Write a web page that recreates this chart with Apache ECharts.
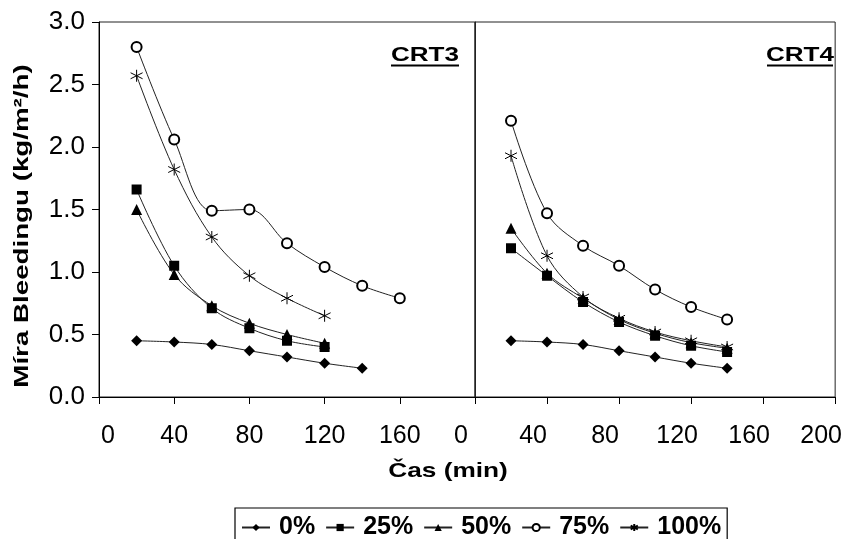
<!DOCTYPE html>
<html>
<head>
<meta charset="utf-8">
<script src="https://cdn.jsdelivr.net/npm/echarts@6/dist/echarts.min.js"></script>
<style>html,body{margin:0;padding:0;background:#fff}#c{width:845px;height:539px}</style>
</head>
<body>
<div id="c"></div>
<script>
const seriesNames = ['0%', '25%', '50%', '75%', '100%'];
const crt3Time = [20, 40, 60, 80, 100, 120, 140, 160];
const crt3_0 = [0.45, 0.44, 0.42, 0.37, 0.32, 0.27, 0.23];
const crt3_25 = [1.66, 1.05, 0.71, 0.55, 0.45, 0.40];
const crt3_50 = [1.50, 0.98, 0.73, 0.59, 0.50, 0.43];
const crt3_75 = [2.80, 2.06, 1.49, 1.50, 1.23, 1.04, 0.89, 0.79];
const crt3_100 = [2.57, 1.82, 1.28, 0.97, 0.79, 0.65];
const crt4Time = [20, 40, 60, 80, 100, 120, 140];
const crt4_0 = [0.45, 0.44, 0.42, 0.37, 0.32, 0.27, 0.23];
const crt4_25 = [1.19, 0.97, 0.76, 0.60, 0.49, 0.41, 0.36];
const crt4_50 = [1.35, 0.99, 0.79, 0.62, 0.51, 0.435, 0.39];
const crt4_75 = [2.21, 1.47, 1.21, 1.05, 0.86, 0.72, 0.62];
const crt4_100 = [1.93, 1.13, 0.80, 0.63, 0.52, 0.45, 0.40];
const yTitle = 'Míra Bleedingu (kg/m²/h)';
const xTitle = 'Čas (min)';
const panelLabels = ['CRT3', 'CRT4'];

const FONT = 'Liberation Sans, Arial, sans-serif';
const STAR = 'path://M5,0L5,10M0.7,2.5L9.3,7.5M0.7,7.5L9.3,2.5';
const symbolDefs = [
  {symbol: 'diamond', size: [11, 11]},
  {symbol: 'rect', size: 10},
  {symbol: 'triangle', size: 11},
  {symbol: 'emptyCircle', size: 10},
  {symbol: STAR, size: 12}
];

function pairs(t, v) { return v.map((y, i) => [t[i], y]); }

const crt3 = [crt3_0, crt3_25, crt3_50, crt3_75, crt3_100];
const crt4 = [crt4_0, crt4_25, crt4_50, crt4_75, crt4_100];

const series = [];
[[crt3, crt3Time, 0], [crt4, crt4Time, 1]].forEach(([sets, t, gi]) => {
  sets.forEach((vals, k) => {
    const s = symbolDefs[k];
    series.push({
      name: seriesNames[k],
      type: 'line',
      xAxisIndex: gi,
      yAxisIndex: gi,
      smooth: 0.35,
      data: pairs(t, vals),
      symbol: s.symbol,
      symbolSize: s.size,
      showAllSymbol: true,
      lineStyle: {color: '#222', width: 1},
      itemStyle: {color: '#000', borderColor: '#000', borderWidth: (k === 3 || k === 4) ? 1 : 0},
      emphasis: {disabled: true},
      z: 3
    });
  });
});

const chart = echarts.init(document.getElementById('c'), null, {renderer: 'canvas'});
const xLabelBase = {color: '#000', fontSize: 25, fontFamily: FONT, margin: 27};
chart.setOption({
  animation: false,
  backgroundColor: '#fff',
  grid: [
    {left: 99, top: 22, width: 376, height: 375, show: true, borderColor: '#222', borderWidth: 1, containLabel: false},
    {left: 475, top: 22, width: 371, height: 375, show: true, borderColor: '#222', borderWidth: 1, containLabel: false}
  ],
  xAxis: [
    {type: 'value', gridIndex: 0, min: 0, max: 200, interval: 40,
     axisLine: {lineStyle: {color: '#000', width: 1}},
     axisTick: {show: true, length: 7, lineStyle: {color: '#000'}},
     splitLine: {show: false},
     axisLabel: Object.assign({}, xLabelBase, {showMaxLabel: false,
       formatter: v => v === 0 ? '{z|0}' : String(v),
       rich: {z: {fontSize: 25, fontFamily: FONT, color: '#000', padding: [0, 0, 0, 18]}}})},
    {type: 'value', gridIndex: 1, min: 0, max: 200, interval: 40,
     axisLine: {lineStyle: {color: '#000', width: 1}},
     axisTick: {show: true, length: 7, lineStyle: {color: '#000'}},
     splitLine: {show: false},
     axisLabel: Object.assign({}, xLabelBase, {showMinLabel: true, showMaxLabel: true, padding: [0, 28, 0, 0]})}
  ],
  yAxis: [
    {type: 'value', gridIndex: 0, min: 0, max: 3, interval: 0.5,
     axisLine: {show: true, lineStyle: {color: '#000', width: 1}},
     axisTick: {show: true, length: 7, lineStyle: {color: '#000'}},
     splitLine: {show: false},
     axisLabel: {color: '#000', fontSize: 26, fontFamily: FONT, margin: 14, formatter: v => v.toFixed(1)}},
    {type: 'value', gridIndex: 1, min: 0, max: 3, interval: 0.5,
     axisLine: {show: true, lineStyle: {color: '#222', width: 1}},
     axisTick: {show: false}, axisLabel: {show: false}, splitLine: {show: false}}
  ],
  legend: {
    data: seriesNames,
    left: 235, top: 508,
    orient: 'horizontal',
    padding: [7, 6, 24, 6],
    borderColor: '#000', borderWidth: 1.2,
    itemWidth: 28, itemHeight: 9, itemGap: 10,
    textStyle: {color: '#000', fontSize: 25, fontWeight: 'bold', fontFamily: FONT, padding: [0, 0, 0, 4]},
    selectedMode: false
  },
  graphic: [
    {type: 'text', x: 22, y: 226, rotation: Math.PI / 2, scaleX: 1.32,
     style: {text: yTitle, x: 0, y: 0, align: 'center', verticalAlign: 'middle', font: 'bold 21px ' + FONT, fill: '#000'}},
    {type: 'text', x: 448, y: 471, scaleX: 1.25,
     style: {text: xTitle, x: 0, y: 0, align: 'center', verticalAlign: 'middle', font: 'bold 21px ' + FONT, fill: '#000'}},
    {type: 'text', x: 425, y: 55, scaleX: 1.24,
     style: {text: panelLabels[0], x: 0, y: 0, align: 'center', verticalAlign: 'middle', font: 'bold 21px ' + FONT, fill: '#000'}},
    {type: 'line', shape: {x1: 391, y1: 65.5, x2: 459, y2: 65.5}, style: {stroke: '#000', lineWidth: 2}},
    {type: 'text', x: 800, y: 55, scaleX: 1.24,
     style: {text: panelLabels[1], x: 0, y: 0, align: 'center', verticalAlign: 'middle', font: 'bold 21px ' + FONT, fill: '#000'}},
    {type: 'line', shape: {x1: 767, y1: 65.5, x2: 833, y2: 65.5}, style: {stroke: '#000', lineWidth: 2}}
  ],
  series: series
});
</script>
</body>
</html>
